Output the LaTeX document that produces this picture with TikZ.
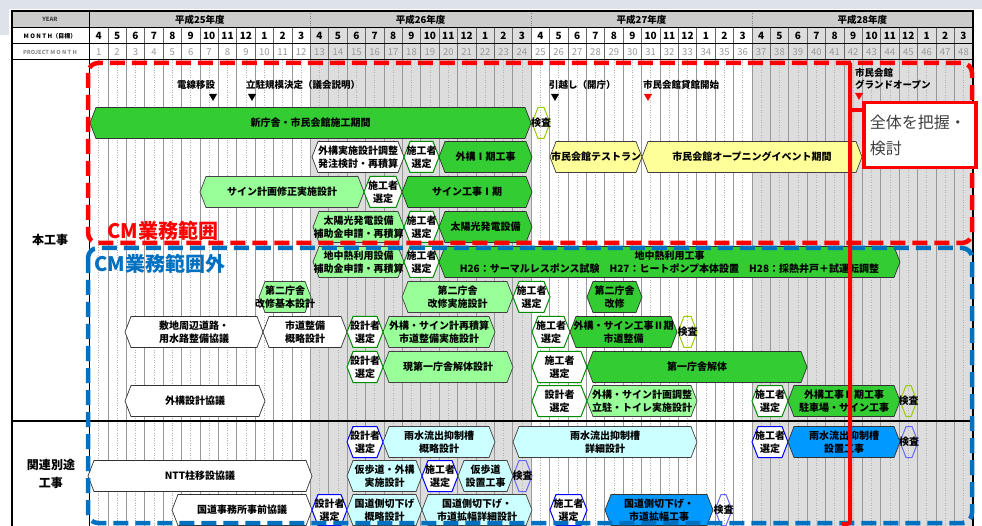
\documentclass[tikz,border=0pt]{standalone}
\usepackage{fontspec}
\setmainfont{Noto Sans CJK JP}
\usepackage{tikz}
\usetikzlibrary{calc}

\definecolor{gdark}{RGB}{51,204,51}
\definecolor{glight}{RGB}{153,255,153}
\definecolor{ylight}{RGB}{255,255,153}
\definecolor{clight}{RGB}{204,255,255}
\definecolor{bdark}{RGB}{0,153,255}
\definecolor{colshade}{RGB}{221,221,221}
\definecolor{yearrow}{RGB}{204,204,204}
\definecolor{cmred}{RGB}{255,0,0}
\definecolor{cmblue}{RGB}{0,112,192}
\definecolor{kensa}{RGB}{153,204,0}
\definecolor{pageband}{RGB}{222,227,234}
\definecolor{notegray}{RGB}{64,64,64}

\tikzset{
  tasktext/.style={font=\fontsize{10}{13}\selectfont\bfseries, align=center, inner sep=0pt},
  miletext/.style={font=\fontsize{9.5}{12.5}\selectfont\bfseries, align=left, inner sep=0pt, anchor=west},
  gbar/.style={draw=black!80, fill=gdark, line width=0.7pt},
  lgbar/.style={draw=black!75, fill=glight, line width=0.7pt},
  ybar/.style={draw=black!75, fill=ylight, line width=0.7pt},
  cbar/.style={draw=black!75, fill=clight, line width=0.7pt},
  bbar/.style={draw=black!80, fill=bdark, line width=0.7pt},
  wbar/.style={draw=black!80, fill=white, line width=0.7pt},
  gsel/.style={draw=green!55!black, fill=white, line width=1pt},
  bsel/.style={draw=blue, fill=white, line width=1pt},
  gchk/.style={draw=kensa, line width=1pt},
  bchk/.style={draw=blue!60, line width=1pt},
  monthline/.style={draw=black!40, line width=0.8pt},
  halfline/.style={draw=black!30, line width=0.5pt, dotted},
  cmbox/.style={line width=4.5pt, dash pattern=on 15pt off 7pt, rounded corners=10pt},
}

% task bar: name, style, left x, right x, centre y, text
\newcommand{\task}[6]{%
  \draw[#2] (#3,#5) -- (#3+6,#5-15.5) -- (#4-6,#5-15.5) -- (#4,#5)
    -- (#4-6,#5+15.5) -- (#3+6,#5+15.5) -- cycle;
  \node[tasktext] (#1) at ({(#3+#4)/2},#5) {#6};}

\begin{document}
\begin{tikzpicture}[x=1pt, y=-1pt]
\useasboundingbox (0,0) rectangle (982,526);
\fill[white] (0,0) rectangle (982,526);
\fill[pageband] (0,0) rectangle (982,9);
\fill[pageband] (0,0) rectangle (9,35);

% header and body shading
\fill[yearrow] (12,11) rectangle (973,28);
\fill[colshade] ({89.5+18.4*12},28) rectangle ({89.5+18.4*24},526);
\fill[colshade] ({89.5+18.4*36},28) rectangle ({89.5+18.4*48},526);

% grid
\foreach \m in {0,...,47}
  \draw[halfline] ({89.5+18.4*(\m+0.5)},60) -- ({89.5+18.4*(\m+0.5)},526);
\foreach \m in {0,...,48}
  \draw[monthline] ({89.5+18.4*\m},60) -- ({89.5+18.4*\m},526);
\foreach \m in {1,...,47}
  \draw[black!60, line width=0.6pt] ({89.5+18.4*\m},28) -- ({89.5+18.4*\m},60);
\foreach \m in {1,2,3}
  \draw[black!50, dotted] ({89.5+18.4*12*\m},11) -- ({89.5+18.4*12*\m},28);
\draw[black, line width=1pt] (12,28) -- (973,28) (12,44) -- (973,44) (12,60) -- (973,60);
\draw[black, line width=1pt] (89.5,11) -- (89.5,526);
\draw[black, line width=1.5pt] (12,421) -- (973,421);
\draw[black, line width=2pt] (12,526) -- (12,11) -- (973,11) -- (973,526);

% header texts
\node[font=\fontsize{5.8}{7}\selectfont\bfseries, text=black!75] (hdYear) at (50,19.5) {YEAR};
\node[font=\fontsize{6}{7}\selectfont\bfseries] (hdMonth) at (50,36) {M O N T H（目標）};
\node[font=\fontsize{5.6}{7}\selectfont\bfseries, text=black!45] (hdProject) at (50,52) {PROJECT M O N T H};
\foreach \y [count=\k from 0] in {25,26,27,28}
  \node[font=\fontsize{9.5}{11}\selectfont\bfseries] (yr\y) at ({89.5+18.4*(12*\k+6)},19.5) {平成\y 年度};
\foreach \i in {0,...,47}{
  \pgfmathtruncatemacro\mon{mod(\i+3,12)+1}
  \pgfmathtruncatemacro\pm{\i+1}
  \node[font=\fontsize{10}{11}\selectfont\bfseries] (mon\i) at ({89.5+18.4*(\i+0.5)},36) {\mon};
  \node[font=\fontsize{9.5}{11}\selectfont, text=black!40] (pm\i) at ({89.5+18.4*(\i+0.5)},52.5) {\pm};
}

% row labels
\node[font=\fontsize{12}{18}\selectfont\bfseries] (honkoji) at (50,240) {本工事};
\node[font=\fontsize{12}{18}\selectfont\bfseries, align=center] (kanren) at (51,474) {関連別途\\工事};

% milestones
\node[miletext] (msDensen) at (177,85) {電線移設};
\fill (209,94) -- (217,94) -- (213,101) -- cycle;
\node[miletext] (msRicchu) at (246,85) {立駐規模決定（議会説明）};
\fill (248,94) -- (256,94) -- (252,101) -- cycle;
\node[miletext] (msHikkoshi) at (549,85) {引越し（開庁）};
\fill (551,94) -- (559,94) -- (555,101) -- cycle;
\node[miletext] (msKashikan) at (643,85) {市民会館貸館開始};
\fill[cmred] (644,94) -- (652,94) -- (648,101) -- cycle;
\node[miletext] (msGrand) at (855,79) {市民会館\\グランドオープン};
\fill[cmred] (855,93) -- (863,93) -- (859,100) -- cycle;

% tasks
\task{shinchosha}{gbar}{90}{531}{123}{新庁舎・市民会館施工期間}
\task{kensaA}{gchk}{532}{550}{123}{検査}

\task{gaikoChosei}{wbar}{312}{404}{157}{外構実施設計調整\\発注検討・再積算}
\task{selA}{gsel}{404}{439}{157}{施工者\\選定}
\task{gaikoI}{gbar}{439}{532}{157}{外構Ⅰ期工事}
\task{testRun}{ybar}{550}{642}{157}{市民会館テストラン}
\task{openEvent}{ybar}{642}{862}{157}{市民会館オープニングイベント期間}

\task{signPlan}{lgbar}{200}{364}{192}{サイン計画修正実施設計}
\task{selB}{gsel}{364}{402}{192}{施工者\\選定}
\task{signI}{gbar}{402}{532}{192}{サイン工事Ⅰ期}

\task{solarApp}{lgbar}{313}{404}{227}{太陽光発電設備\\補助金申請・再積算}
\task{selC}{gsel}{404}{439}{227}{施工者\\選定}
\task{solarWork}{gbar}{439}{532}{227}{太陽光発電設備}

\task{geoApp}{lgbar}{313}{404}{262}{地中熱利用設備\\補助金申請・再積算}
\task{selD}{gsel}{404}{439}{262}{施工者\\選定}
\task{geoWork}{gbar}{439}{900}{262}{地中熱利用工事\\H26：サーマルレスポンス試験\quad H27：ヒートポンプ本体設置\quad H28：採熱井戸＋試運転調整}

\task{dainiKihon}{lgbar}{259}{311}{297}{第二庁舎\\改修基本設計}
\task{dainiJisshi}{lgbar}{402}{513}{297}{第二庁舎\\改修実施設計}
\task{selE}{gsel}{513}{550}{297}{施工者\\選定}
\task{dainiKaishu}{gbar}{587}{642}{297}{第二庁舎\\改修}

\task{shikichi}{wbar}{125}{263}{332}{敷地周辺道路・\\用水路整備協議}
\task{shidoGairyaku}{wbar}{263}{347}{332}{市道整備\\概略設計}
\task{desA}{gsel}{347}{383}{332}{設計者\\選定}
\task{gaikoSaiseki}{lgbar}{383}{495}{332}{外構・サイン計再積算\\市道整備実施設計}
\task{selF}{gsel}{532}{570}{332}{施工者\\選定}
\task{gaikoII}{gbar}{570}{677}{332}{外構・サイン工事Ⅱ期\\市道整備}
\task{kensaB}{gchk}{678}{697}{332}{検査}

\task{desB}{gsel}{347}{383}{367}{設計者\\選定}
\task{kaitaiSekkei}{lgbar}{383}{513}{367}{現第一庁舎解体設計}
\task{selG}{gsel}{532}{587}{367}{施工者\\選定}
\task{kaitai}{gbar}{587}{807}{367}{第一庁舎解体}

\task{gaikoKyogi}{wbar}{125}{265}{401}{外構設計協議}
\task{desC}{gsel}{532}{587}{401}{設計者\\選定}
\task{gaikoKeikaku}{lgbar}{587}{697}{401}{外構・サイン計画調整\\立駐・トイレ実施設計}
\task{selH}{gsel}{752}{788}{401}{施工者\\選定}
\task{gaikoIIb}{gbar}{788}{900}{401}{外構工事Ⅱ期工事\\駐車場・サイン工事}
\task{kensaC}{gchk}{900}{917}{401}{検査}

\task{desD}{bsel}{347}{383}{442}{設計者\\選定}
\task{usuiGairyaku}{cbar}{383}{495}{442}{雨水流出抑制槽\\概略設計}
\task{usuiShosai}{cbar}{513}{697}{442}{雨水流出抑制槽\\詳細設計}
\task{selI}{bsel}{752}{788}{442}{施工者\\選定}
\task{usuiWork}{bbar}{788}{900}{442}{雨水流出抑制槽\\設置工事}
\task{kensaD}{bchk}{900}{918}{442}{検査}

\task{nttKyogi}{wbar}{88}{312}{476}{NTT柱移設協議}
\task{karihodoSekkei}{cbar}{347}{422}{476}{仮歩道・外構\\実施設計}
\task{selJ}{bsel}{422}{458}{476}{施工者\\選定}
\task{karihodo}{cbar}{458}{513}{476}{仮歩道\\設置工事}
\task{kensaE}{bchk}{513}{532}{476}{検査}

\task{kokudoKyogi}{wbar}{172}{312}{510}{国道事務所事前協議}
\task{desE}{bsel}{312}{347}{510}{設計者\\選定}
\task{kirisageGairyaku}{cbar}{347}{422}{510}{国道側切下げ\\概略設計}
\task{kirisageShosai}{cbar}{422}{532}{510}{国道側切下げ・\\市道拡幅詳細設計}
\task{selK}{bsel}{550}{587}{510}{施工者\\選定}
\task{kirisage}{bbar}{605}{713}{510}{国道側切下げ・\\市道拡幅工事}
\task{kensaF}{bchk}{715}{732}{510}{検査}

% CM scope
\draw[cmbox, cmred] (88,63) rectangle (972,243);
\draw[cmbox, cmblue] (88,248) rectangle (972,523);
\node[font=\fontsize{20}{22}\selectfont\bfseries, text=cmred, anchor=west, inner sep=0pt] (cmIn) at (107,231) {CM業務範囲};
\node[font=\fontsize{20}{22}\selectfont\bfseries, text=cmblue, anchor=west, inner sep=0pt] (cmOut) at (94,264) {CM業務範囲外};

% overall check
\coordinate (lineTop) at (850,63);
\coordinate (lineBot) at (850,524);
\draw[cmred, line width=4pt, rounded corners=3pt] (lineTop) -- (lineBot) -- ++(-8,0);
\node[draw=cmred, line width=3.5pt, fill=white, anchor=north west, minimum width=112, minimum height=65,
  text width=100, align=left, text=notegray, font=\fontsize{16}{26}\selectfont] (note) at (862,101) {全体を把握・\\検討};
\coordinate (tap) at (850,110);
\draw[cmred, line width=4pt] (tap) -- (tap -| note.west);
\end{tikzpicture}
\end{document}
